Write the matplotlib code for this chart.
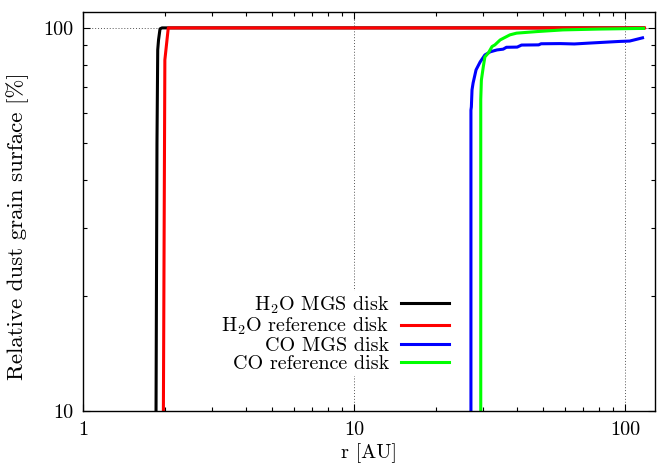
import matplotlib
matplotlib.use("Agg")
import matplotlib.pyplot as plt
from matplotlib.ticker import LogLocator, FixedLocator, NullFormatter

plt.rcParams["font.family"] = ["cmr10", "DejaVu Serif"]
plt.rcParams["mathtext.fontset"] = "cm"
plt.rcParams["axes.formatter.use_mathtext"] = True

# ----------------------------------------------------------
# Data
# ----------------------------------------------------------

h2o_mgs_r = [1.86, 1.86, 1.875, 1.887, 1.90, 1.924, 1.957, 117]
h2o_mgs_s = [5, 10, 50, 87.6, 93.0, 99.4, 100, 100]

h2o_ref_r = [1.98, 1.98, 2.005, 2.064, 118]
h2o_ref_s = [5, 10, 82.5, 100, 100]

co_mgs_r = [27.0, 27.0, 27.1, 27.25, 27.5, 28.2, 29.2, 30.4, 31.8, 33.7,
            35.5, 36.5, 40.0, 41.5, 48.0, 49.0, 57.6, 65.0, 74.3, 80.9,
            95.8, 104, 116]
co_mgs_s = [5, 61, 62.2, 68.9, 71.8, 77.7, 81.5, 85.0, 86.6, 87.6,
            88.0, 89.0, 89.1, 90.2, 90.3, 90.9, 91.0, 90.8, 91.3, 91.6,
            92.2, 92.4, 94.2]

co_ref_r = [29.35, 29.35, 29.5, 30.0, 30.4, 31.3, 32.3, 33.1, 34.6, 35.6,
            37.6, 39.8, 47.2, 59.0, 80.0, 117]
co_ref_s = [5, 65, 73, 79.3, 84.0, 86.0, 89.4, 90.3, 93.0, 94.0,
            95.9, 96.9, 97.8, 98.8, 99.3, 99.7]

series = [
    (h2o_mgs_r, h2o_mgs_s, "black", "H$_2$O MGS disk"),
    (h2o_ref_r, h2o_ref_s, "#ff0000", "H$_2$O reference disk"),
    (co_mgs_r, co_mgs_s, "#0000ff", "CO MGS disk"),
    (co_ref_r, co_ref_s, "#00ff00", "CO reference disk"),
]

FS = 14.5

# ----------------------------------------------------------
# Plot
# ----------------------------------------------------------

fig = plt.figure(figsize=(6.57, 4.63), dpi=100)
ax = fig.add_axes([0.1263, 0.1123, 0.8707, 0.8617])

for r, s, c, lab in series:
    ax.plot(r, s, color=c, linewidth=2.2, label=lab, solid_joinstyle="round")

ax.set_xscale("log")
ax.set_yscale("log")
ax.set_xlim(1, 129)
ax.set_ylim(10, 110)

ax.xaxis.set_major_locator(FixedLocator([1, 10, 100]))
ax.yaxis.set_major_locator(FixedLocator([10, 100]))
ax.set_xticklabels(["1", "10", "100"])
ax.set_yticklabels(["10", "100"])
ax.xaxis.set_minor_locator(LogLocator(base=10, subs=range(2, 10)))
ax.yaxis.set_minor_locator(LogLocator(base=10, subs=range(2, 10)))
ax.xaxis.set_minor_formatter(NullFormatter())
ax.yaxis.set_minor_formatter(NullFormatter())

ax.tick_params(which="both", direction="in", top=True, right=True,
               labelsize=FS, width=0.8)
ax.tick_params(which="major", length=5, pad=7)
ax.tick_params(which="minor", length=3)

ax.grid(True, which="major", linestyle=(0, (1, 2)), color="#555555",
        linewidth=0.7)
for sp in ax.spines.values():
    sp.set_linewidth(1.0)

ax.set_xlabel("r [AU]", fontsize=FS, labelpad=3)
ax.set_ylabel("Relative dust grain surface [%]", fontsize=16.5)
ax.yaxis.set_label_coords(-0.094, 0.463)

leg = ax.legend(loc="upper right", bbox_to_anchor=(0.645, 0.30),
                markerfirst=False, fontsize=FS, handlelength=2.4,
                handletextpad=0.55, labelspacing=0.0, borderpad=0.15,
                borderaxespad=0.0, fancybox=False, framealpha=1.0)
leg.get_frame().set_edgecolor("none")
leg.get_frame().set_facecolor("white")

fig.savefig("out.png", dpi=100)
plt.close(fig)
